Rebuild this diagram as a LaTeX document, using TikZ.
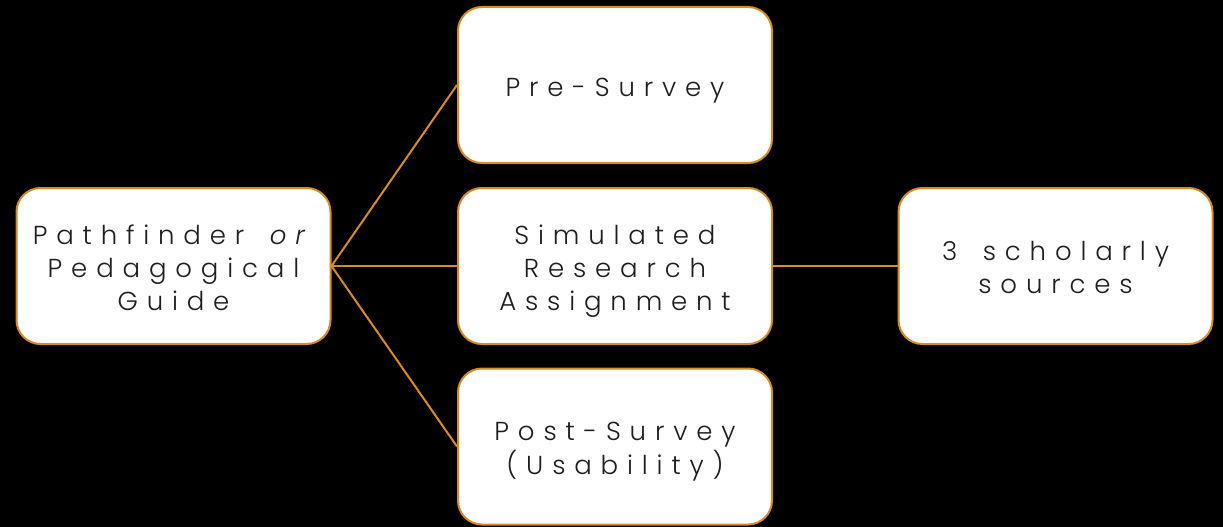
\documentclass[tikz,border=0pt]{standalone}
\usepackage{fontspec}
\setmainfont{Poppins Light}[LetterSpace=34, WordSpace=1.6]
% centred block of lines, set a little below the box centre
\newcommand{\stagetext}[1]{\raisebox{-11pt}[0pt][0pt]{\begin{tabular}{@{}c@{}}#1\end{tabular}}}
\begin{document}
\begin{tikzpicture}[x=1pt,y=-1pt,
  stagebox/.style={draw=boxedge, line width=2pt, fill=white, rounded corners=24pt,
    minimum width=314pt, minimum height=156pt, inner sep=0pt,
    text=textgray, font=\fontsize{26}{33}\selectfont},
  link/.style={draw=boxedge, line width=2pt}]
\definecolor{boxedge}{RGB}{214,140,38}
\definecolor{textgray}{RGB}{30,30,30}
\fill[black] (0,0) rectangle (1223,527);
\useasboundingbox (0,0) rectangle (1223,527);
\node[stagebox] (guide) at (173.5,266) {\stagetext{Pathfinder \textit{or}\\Pedagogical\\Guide}};
\node[stagebox] (pre) at (615,85) {\stagetext{Pre-Survey}};
\node[stagebox] (sim) at (615,266) {\stagetext{Simulated\\Research\\Assignment}};
\node[stagebox] (post) at (615,446.5) {\stagetext{Post-Survey\\(Usability)}};
\node[stagebox] (src) at (1055.5,266) {\stagetext{3 scholarly\\sources}};
\draw[link] (guide.east) -- (pre.west);
\draw[link] (guide.east) -- (sim.west);
\draw[link] (guide.east) -- (post.west);
\draw[link] (sim.east) -- (src.west);
\end{tikzpicture}
\end{document}
